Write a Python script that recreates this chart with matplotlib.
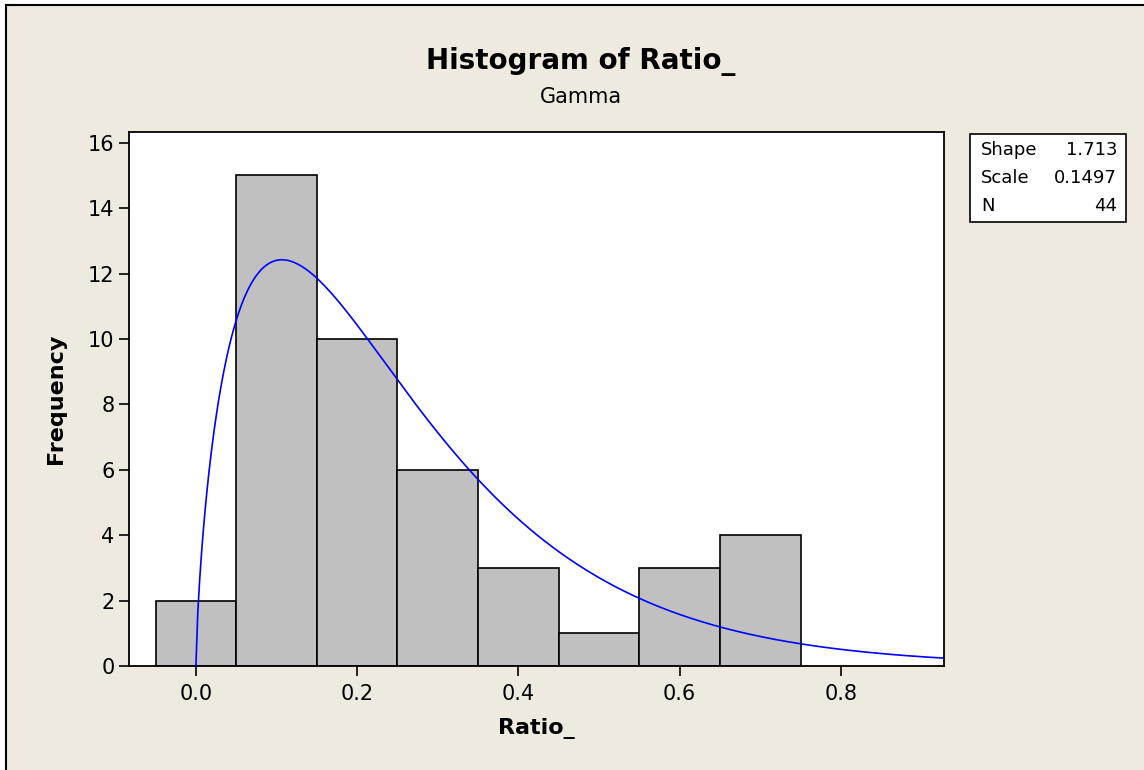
"""
Histogram of Ratio_ with a fitted gamma curve (Minitab style)
"""
import math
import numpy as np
import matplotlib
matplotlib.use("Agg")
import matplotlib.pyplot as plt
from matplotlib.patches import Rectangle
from matplotlib.lines import Line2D

# Histogram data: bin midpoints and counts
bin_mids = [0.0, 0.1, 0.2, 0.3, 0.4, 0.5, 0.6, 0.7]
counts = [2, 15, 10, 6, 3, 1, 3, 4]
bin_width = 0.1

# Fitted gamma parameters shown in the legend box
shape = 1.713
scale = 0.1497
n_obs = 44

x_ticks = [0.0, 0.2, 0.4, 0.6, 0.8]
y_ticks = [0, 2, 4, 6, 8, 10, 12, 14, 16]

BG = '#EEEAE0'
BAR = '#C0C0C0'

W, H = 1144, 770
fig = plt.figure(figsize=(W / 100, H / 100), dpi=100, facecolor='white')

# beige panel with black left/top edges (cropped window look)
fig.patches.append(Rectangle((6 / W, 0), 1 - 6 / W, 1 - 5 / H,
                             transform=fig.transFigure, facecolor=BG,
                             edgecolor='none', zorder=-10))
fig.lines.append(Line2D([6 / W, 6 / W], [0, 1 - 5 / H], transform=fig.transFigure,
                        color='black', lw=1.5, zorder=-5))
fig.lines.append(Line2D([6 / W, 1], [1 - 5 / H, 1 - 5 / H], transform=fig.transFigure,
                        color='black', lw=1.5, zorder=-5))

ax = fig.add_axes([129 / W, 1 - 666 / H, (944 - 129) / W, (666 - 132) / H])
ax.set_facecolor('white')

ax.bar(bin_mids, counts, width=bin_width, color=BAR, edgecolor='black',
       linewidth=1.2, zorder=2)

# gamma density scaled to frequency
xs = np.linspace(0.0, 0.93, 400)
log_norm = math.lgamma(shape) + shape * math.log(scale)
pdf = np.zeros_like(xs)
pos = xs > 0
pdf[pos] = np.exp((shape - 1) * np.log(xs[pos]) - xs[pos] / scale - log_norm)
ax.plot(xs, pdf * n_obs * bin_width, color='#0000FF', lw=1.2, zorder=3)

ax.set_xlim(-0.083, 0.928)
ax.set_ylim(0, 16.33)
ax.set_xticks(x_ticks)
ax.set_xticklabels([f'{t:.1f}' for t in x_ticks])
ax.set_yticks(y_ticks)
ax.tick_params(direction='out', length=7, width=1.2, labelsize=15)
ax.tick_params(axis='x', pad=6)
for sp in ax.spines.values():
    sp.set_linewidth(1.3)

ax.set_xlabel('Ratio_', fontsize=16, fontweight='bold', labelpad=10)
ax.set_ylabel('Frequency', fontsize=16, fontweight='bold', labelpad=16)

fig.text(581 / W, 1 - 61 / H, 'Histogram of Ratio_', ha='center', va='center',
         fontsize=20, fontweight='bold')
fig.text(581 / W, 1 - 97 / H, 'Gamma', ha='center', va='center', fontsize=15)

# legend box with the fitted parameters
fig.patches.append(Rectangle((970 / W, 1 - 222 / H), 156 / W, 88 / H,
                             transform=fig.transFigure, facecolor='white',
                             edgecolor='black', lw=1.2))
rows = [('Shape', f'{shape}'), ('Scale', f'{scale}'), ('N', f'{n_obs}')]
for i, (label, val) in enumerate(rows):
    yy = 1 - (150 + i * 28) / H
    fig.text(981 / W, yy, label, ha='left', va='center', fontsize=13)
    fig.text(1117 / W, yy, val, ha='right', va='center', fontsize=13)

fig.savefig('out.png', dpi=100, facecolor=fig.get_facecolor())
